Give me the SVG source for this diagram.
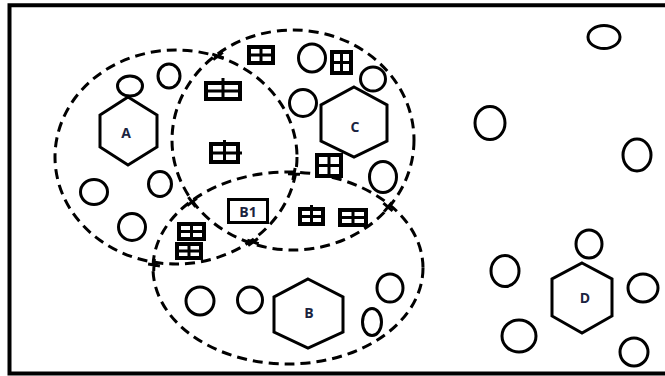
<svg xmlns="http://www.w3.org/2000/svg" width="665" height="376" viewBox="0 0 665 376">
<style>
.frame{fill:none;stroke:#000;stroke-width:4}
.zone{fill:none;stroke:#000;stroke-width:3;stroke-dasharray:10 6}
.cross{stroke:#000;stroke-width:3;fill:none}
.hex{fill:#fff;stroke:#000;stroke-width:3}
.dot{fill:#fff;stroke:#000;stroke-width:3}
.win{fill:#fff;stroke:#000;stroke-width:4}
.winl{stroke:#000;stroke-width:3;fill:none}
.b1{fill:#fff;stroke:#000;stroke-width:3}
.lbl{font-family:"Open Sans","Liberation Sans",sans-serif;font-weight:bold;font-size:14px;fill:#1b2440;text-anchor:middle}
</style>
<rect width="665" height="376" fill="#fff"/>
<path class="frame" d="M665,5.3 H9.5 V373.5 H665"/>
<g id="zones">
<ellipse id="zoneA" class="zone" cx="176" cy="157" rx="121" ry="107"/>
<ellipse id="zoneC" class="zone" cx="293" cy="140" rx="121" ry="110"/>
<ellipse id="zoneB" class="zone" cx="288" cy="268" rx="135" ry="96"/>
</g>
<g id="connectors">
<path class="cross" d="M212.3,54.1L223.7,57.9M213.2,59.6L222.8,52.4"/>
<path class="cross" d="M148.1,264.1L159.9,265.9M153.7,271L154.3,259"/>
<path class="cross" d="M187.2,205.6L196.8,198.4M188.4,197.2L195.6,206.8"/>
<path class="cross" d="M248.1,245.5L257.9,238.5M247.3,240.2L258.7,243.8"/>
<path class="cross" d="M295.1,168.1L292.9,179.9M288,173.8L300,174.2"/>
<path class="cross" d="M391.9,202.4L384.1,211.6M383.4,203.2L392.6,210.8"/>
</g>
<g id="nodeA"><polygon class="hex" points="128,97 157,115 157,147 128,165 100,147 100,115"/><text class="lbl" x="126" y="138">A</text></g>
<g id="nodeC"><polygon class="hex" points="354,87 387,105 387,141 354,157 321,141 321,105"/><text class="lbl" x="355" y="132">C</text></g>
<g id="nodeB"><polygon class="hex" points="308,279 343,297 343,332 308,348 274,332 274,297"/><text class="lbl" x="309" y="318">B</text></g>
<g id="nodeD"><polygon class="hex" points="582,263 612,279 612,316 582,333 552,316 552,279"/><text class="lbl" x="585" y="303">D</text></g>
<g id="nodeB1"><rect class="b1" x="228.5" y="199.5" width="39" height="23"/><text class="lbl" x="248" y="216.5">B1</text></g>
<g id="dots">
<ellipse id="o1" class="dot" cx="130" cy="86" rx="12.5" ry="10"/>
<ellipse id="o2" class="dot" cx="169" cy="76" rx="11" ry="12"/>
<ellipse id="o3" class="dot" cx="94" cy="192" rx="13.5" ry="12.5"/>
<ellipse id="o4" class="dot" cx="160" cy="184" rx="11.5" ry="12.5"/>
<ellipse id="o5" class="dot" cx="132" cy="227" rx="13.5" ry="13.5"/>
<ellipse id="o6" class="dot" cx="200" cy="301" rx="14" ry="14"/>
<ellipse id="o7" class="dot" cx="250" cy="300" rx="12.5" ry="13"/>
<ellipse id="o8" class="dot" cx="312" cy="58" rx="13.5" ry="14"/>
<ellipse id="o9" class="dot" cx="373" cy="79" rx="12.5" ry="12"/>
<ellipse id="o10" class="dot" cx="303" cy="103" rx="13.5" ry="13.5"/>
<ellipse id="o11" class="dot" cx="383" cy="177" rx="13.5" ry="15.5"/>
<ellipse id="o12" class="dot" cx="390" cy="288" rx="13" ry="14"/>
<ellipse id="o13" class="dot" cx="372" cy="322" rx="9.5" ry="13.5"/>
<ellipse id="o14" class="dot" cx="604" cy="37" rx="16" ry="11.5"/>
<ellipse id="o15" class="dot" cx="490" cy="123" rx="15" ry="16.5"/>
<ellipse id="o16" class="dot" cx="637" cy="155" rx="14" ry="16"/>
<ellipse id="o17" class="dot" cx="589" cy="244" rx="13" ry="14"/>
<ellipse id="o18" class="dot" cx="505" cy="271" rx="14" ry="15.5"/>
<ellipse id="o19" class="dot" cx="643" cy="288" rx="15" ry="14"/>
<ellipse id="o20" class="dot" cx="519" cy="336" rx="17" ry="16"/>
<ellipse id="o21" class="dot" cx="634" cy="352" rx="14" ry="14"/>
</g>
<g id="windows">
<g id="w1"><rect class="win" x="206" y="83" width="34" height="16"/><path class="winl" d="M206,91H240M223,78V99"/></g>
<g id="w2"><rect class="win" x="211" y="144" width="27" height="18"/><path class="winl" d="M211,153H242M224.5,140V162"/></g>
<g id="w3"><rect class="win" x="249" y="47" width="24" height="16"/><path class="winl" d="M249,55H273M261,47V63"/></g>
<g id="w4"><rect class="win" x="332" y="52" width="19" height="21"/><path class="winl" d="M332,62.5H351M341.5,52V73"/></g>
<g id="w5"><rect class="win" x="317" y="155" width="24" height="21"/><path class="winl" d="M317,165.5H341M329,155V176"/></g>
<g id="w6"><rect class="win" x="300" y="209" width="23" height="15"/><path class="winl" d="M300,216.5H323M311.5,205V224"/></g>
<g id="w7"><rect class="win" x="340" y="210" width="26" height="15"/><path class="winl" d="M340,217.5H366M353,210V225"/></g>
<g id="w8"><rect class="win" x="179" y="224" width="25" height="15"/><path class="winl" d="M179,231.5H204M191.5,224V239"/></g>
<g id="w9"><rect class="win" x="177" y="244" width="24" height="14"/><path class="winl" d="M177,251H201M189,244V258"/></g>
</g>
</svg>
